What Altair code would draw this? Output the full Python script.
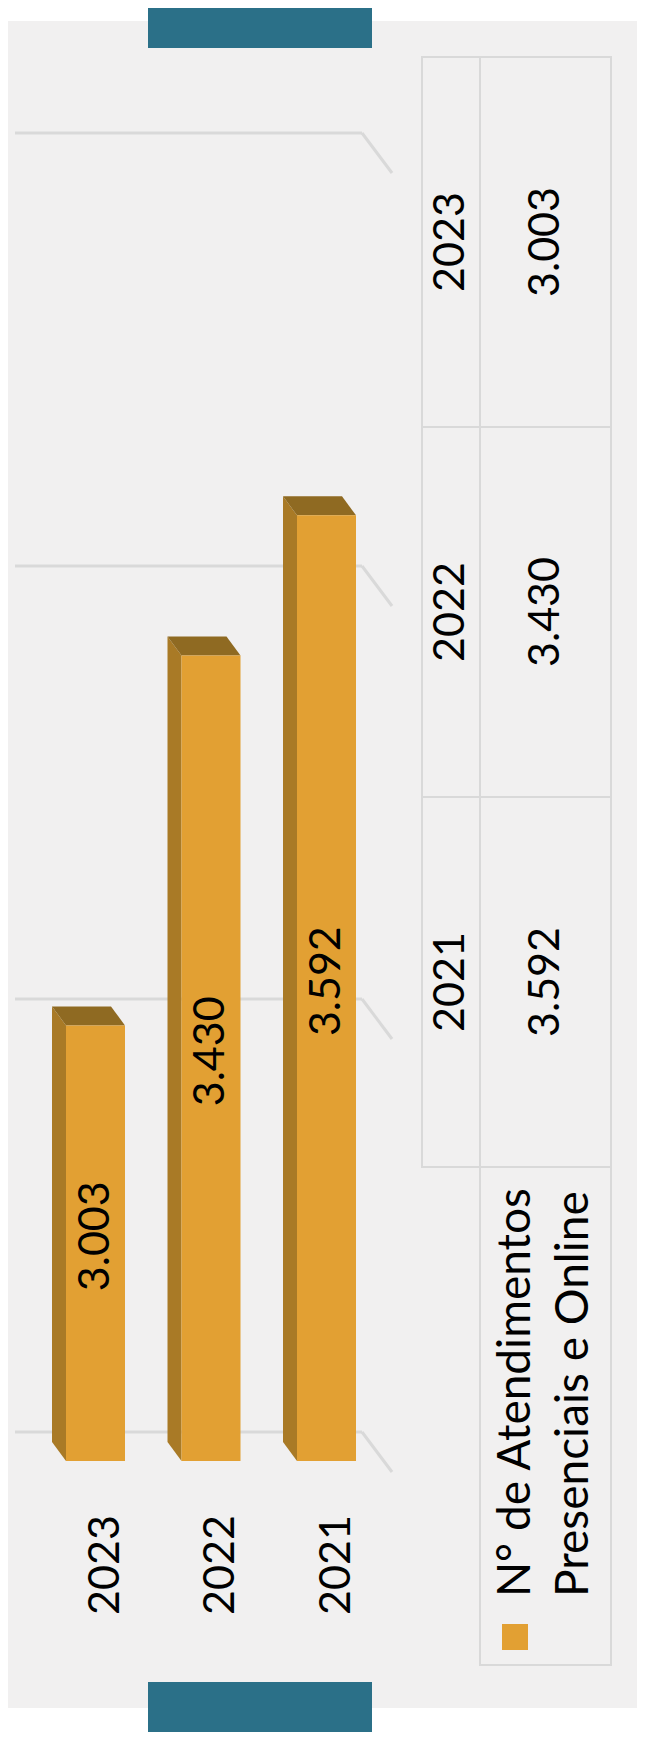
import altair as alt
import pandas as pd

# ---------------- data ----------------
years = ["2023", "2022", "2021"]
values = [3003, 3430, 3592]
grid_values = [2500, 3000, 3500, 4000]
axis_min, axis_max = 2500, 4000
legend_text = "N° de Atendimentos\nPresenciais e Online"

# ---------------- style ----------------
W, H = 629, 1724
FONT = "Lato"
FS = 43
BAR = "#e2a033"
SIDE = "#a97a26"
CAP = "#8f6a22"
TEAL = "#2b7088"
BG = "#f1f0f0"
GRID = "#d9d9d9"

X_RANGE = [73.5, 304.5]
Y_RANGE = [1434, 135]
px_per_idx = (X_RANGE[1] - X_RANGE[0]) / (len(years) - 1)
px_per_val = (Y_RANGE[0] - Y_RANGE[1]) / (axis_max - axis_min)
half = 29.5 / px_per_idx      # half bar width in index units
dxu = 14 / px_per_idx         # 3D depth (x) in index units
dyu = 19 / px_per_val         # 3D depth (y) in value units

xs = alt.Scale(domain=[0, len(years) - 1], range=X_RANGE, nice=False, zero=False)
ys = alt.Scale(domain=[axis_min, axis_max], range=Y_RANGE, nice=False, zero=False)

labels = [f"{v:,}".replace(",", ".") for v in values]
bars = pd.DataFrame({"year": years, "idx": list(range(len(years))), "value": values, "label": labels})
bars["mid"] = (bars["value"] + axis_min) / 2

front = pd.DataFrame({
    "year": years,
    "x": bars["idx"] - half + dxu,
    "x2": bars["idx"] + half + dxu,
    "y": bars["value"] - dyu,
    "y2": axis_min - dyu,
})

side_rows, cap_rows = [], []
for i, (yr, v) in enumerate(zip(years, values)):
    xl, xr = i - half, i + half
    side_rows += [
        {"year": yr, "x": xl, "y": v, "y2": axis_min},
        {"year": yr, "x": xl + dxu, "y": v - dyu, "y2": axis_min - dyu},
    ]
    cap_rows += [
        {"year": yr, "x": xl, "y": v, "y2": v},
        {"year": yr, "x": xl + dxu, "y": v, "y2": v - dyu},
        {"year": yr, "x": xr, "y": v, "y2": v - dyu},
        {"year": yr, "x": xr + dxu, "y": v - dyu, "y2": v - dyu},
    ]
side = pd.DataFrame(side_rows)
cap = pd.DataFrame(cap_rows)
grid = pd.DataFrame({"g": grid_values})

one = alt.Data(values=[{}])


def vrect(x, x2, y, y2, color):
    return alt.Chart(one).mark_rect(color=color).encode(
        x=alt.value(x), x2=alt.value(x2), y=alt.value(y), y2=alt.value(y2))


bg = vrect(0, W, 13, 1700, BG)
teal_top = vrect(140, 364, 0, 40, TEAL)
teal_bot = vrect(140, 364, 1674, 1726, TEAL)

grid_h = alt.Chart(grid).mark_rule(color=GRID, strokeWidth=3, yOffset=-10).encode(
    x=alt.value(7), x2=alt.value(354), y=alt.Y("g:Q", scale=ys, axis=None))
grid_s = alt.Chart(grid).mark_rule(color=GRID, strokeWidth=3, yOffset=-10, y2Offset=30).encode(
    x=alt.value(354), x2=alt.value(384), y=alt.Y("g:Q", scale=ys, axis=None), y2="g:Q")

side_l = alt.Chart(side).mark_area(color=SIDE, orient="vertical").encode(
    x=alt.X("x:Q", scale=xs, axis=None), y=alt.Y("y:Q", scale=ys, axis=None), y2="y2:Q",
    detail="year:N")
cap_l = alt.Chart(cap).mark_area(color=CAP, orient="vertical").encode(
    x=alt.X("x:Q", scale=xs, axis=None), y=alt.Y("y:Q", scale=ys, axis=None), y2="y2:Q",
    detail="year:N")
front_l = alt.Chart(front).mark_bar(color=BAR).encode(
    x=alt.X("x:Q", scale=xs, axis=None), x2="x2:Q",
    y=alt.Y("y:Q", scale=ys, axis=None), y2="y2:Q")

val_text = alt.Chart(bars).mark_text(
    angle=270, align="center", baseline="middle", font=FONT, fontSize=FS, color="black",
    xOffset=14, yOffset=12).encode(
    x=alt.X("idx:Q", scale=xs, axis=None), y=alt.Y("mid:Q", scale=ys, axis=None), text="label:N")

cat_text = alt.Chart(bars).mark_text(
    angle=270, align="center", baseline="middle", font=FONT, fontSize=FS, color="black",
    xOffset=24).encode(
    x=alt.X("idx:Q", scale=xs, axis=None), y=alt.value(1557), text="year:N")

# ---------------- data table ----------------
ty = alt.Y("year:N", scale=alt.Scale(type="band", domain=years, range=[49, 1159],
                                     paddingInner=0, paddingOuter=0), axis=None)
cell_year = alt.Chart(bars).mark_rect(fill="transparent", stroke=GRID, strokeWidth=2).encode(
    x=alt.value(414), x2=alt.value(472), y=ty)
cell_val = alt.Chart(bars).mark_rect(fill="transparent", stroke=GRID, strokeWidth=2).encode(
    x=alt.value(472), x2=alt.value(603), y=ty)
tab_year = alt.Chart(bars).mark_text(
    angle=270, align="center", baseline="middle", font=FONT, fontSize=FS, color="black").encode(
    x=alt.value(443), y=ty, text="year:N")
tab_val = alt.Chart(bars).mark_text(
    angle=270, align="center", baseline="middle", font=FONT, fontSize=FS, color="black").encode(
    x=alt.value(538), y=ty, text="label:N")

leg_cell = alt.Chart(one).mark_rect(fill="transparent", stroke=GRID, strokeWidth=2).encode(
    x=alt.value(472), x2=alt.value(603), y=alt.value(1159), y2=alt.value(1657))
leg_swatch = vrect(494, 520, 1616, 1642, BAR)
leg_text = alt.Chart(pd.DataFrame({"t": [legend_text]})).mark_text(
    angle=270, align="left", baseline="alphabetic", font=FONT, fontSize=46, color="black",
    lineBreak="\n", lineHeight=58).encode(
    x=alt.value(522), y=alt.value(1589), text="t:N")

chart = alt.layer(
    bg, teal_top, teal_bot, grid_h, grid_s, side_l, cap_l, front_l, val_text, cat_text,
    cell_year, cell_val, tab_year, tab_val, leg_cell, leg_swatch, leg_text,
).resolve_scale(y="independent").properties(
    width=W, height=H, padding=0, background="white",
    autosize=alt.AutoSizeParams(type="none"),
).configure_view(stroke=None)

chart.save("out.html", embed_options={"renderer": "svg", "actions": False})
